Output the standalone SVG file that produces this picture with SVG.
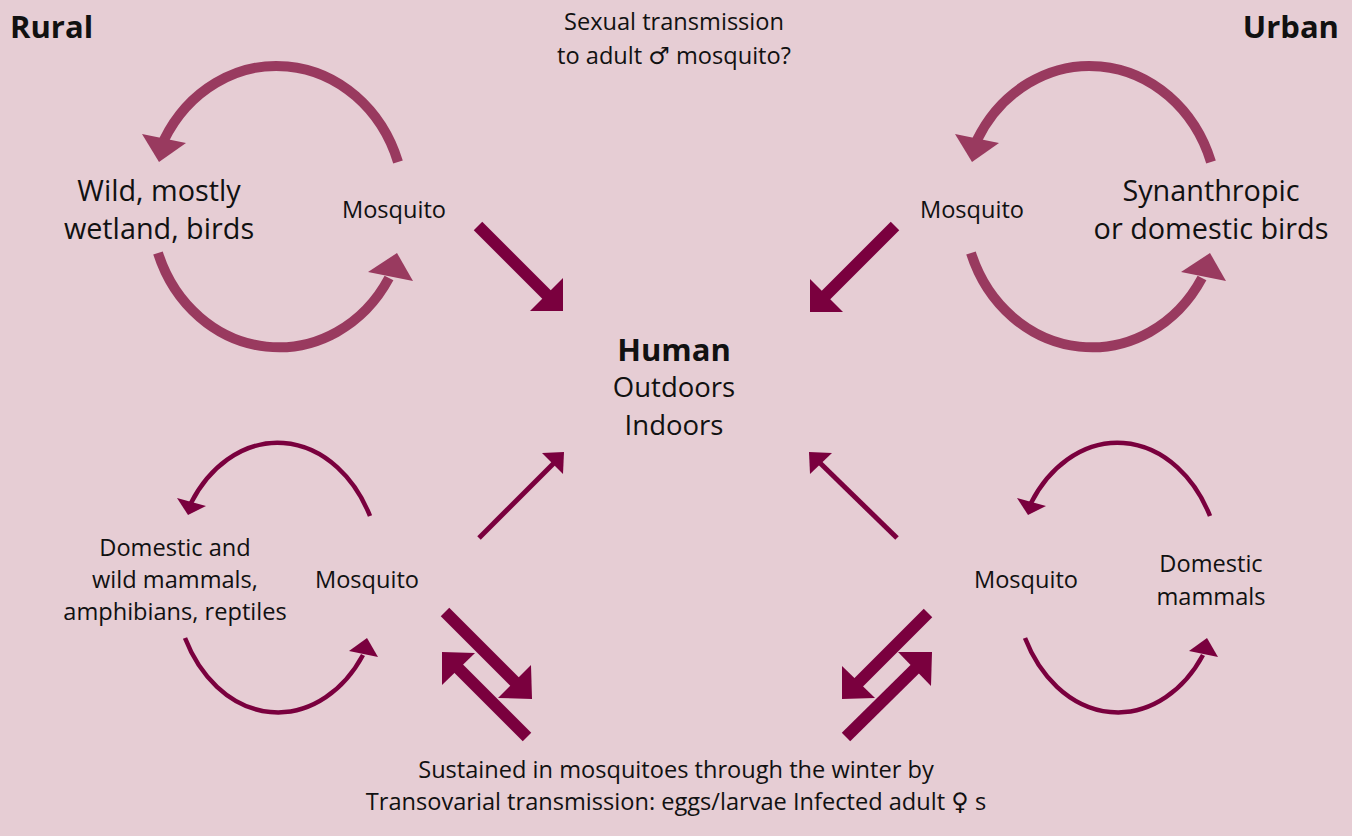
<svg xmlns="http://www.w3.org/2000/svg" width="1352" height="836" viewBox="0 0 1352 836">
<style>
  text { font-family: "Open Sans", "Noto Sans", "Liberation Sans", sans-serif; fill: #111; text-anchor: middle; }
  .t23 { font-size: 23.6px; }
  .t22 { font-size: 23.6px; }
  .t28 { font-size: 28.8px; }
  .t27 { font-size: 27.5px; }
  .title { font-size: 31px; font-weight: bold; }
  .sym { font-family: "DejaVu Sans", sans-serif; font-size: 24px; }
  .arcA { fill: none; stroke: #993A5F; stroke-width: 10; }
  .headA { fill: #993A5F; }
  .arcB { fill: none; stroke: #7A003E; stroke-width: 4.5; }
  .headB { fill: #7A003E; }
  .thick { stroke: #7A003E; stroke-width: 12; }
  .thin { stroke: #7A003E; stroke-width: 5; }
</style>
<rect width="1352" height="836" fill="#E6CDD4"/>

<g id="labels">
  <text x="10" y="38" class="title" style="text-anchor:start">Rural</text>
  <text x="1339" y="38" class="title" style="text-anchor:end">Urban</text>
  <text x="674" y="30" class="t23">Sexual transmission</text>
  <text x="674" y="64" class="t23">to adult <tspan class="sym">♂</tspan> mosquito?</text>
  <text x="676" y="778" class="t23">Sustained in mosquitoes through the winter by</text>
  <text x="676" y="810" class="t23">Transovarial transmission: eggs/larvae Infected adult <tspan class="sym">♀</tspan> s</text>
</g>

<g id="human">
  <text x="674" y="361" class="title">Human</text>
  <text x="674" y="397" class="t27">Outdoors</text>
  <text x="674" y="435" class="t27">Indoors</text>
</g>

<g id="rural-birds">
  <text x="159" y="201" class="t28">Wild, mostly</text>
  <text x="159" y="239" class="t28">wetland, birds</text>
</g>
<g id="rural-mosquito-top">
  <text x="394" y="218" class="t23">Mosquito</text>
</g>
<g id="urban-mosquito-top">
  <text x="972" y="218" class="t23">Mosquito</text>
</g>
<g id="urban-birds">
  <text x="1211" y="201" class="t28">Synanthropic</text>
  <text x="1211" y="239" class="t28">or domestic birds</text>
</g>
<g id="rural-mammals">
  <text x="175" y="556" class="t22">Domestic and</text>
  <text x="175" y="588" class="t22">wild mammals,</text>
  <text x="175" y="620" class="t22">amphibians, reptiles</text>
</g>
<g id="rural-mosquito-bottom">
  <text x="367" y="588" class="t22">Mosquito</text>
</g>
<g id="urban-mosquito-bottom">
  <text x="1026" y="588" class="t22">Mosquito</text>
</g>
<g id="urban-mammals">
  <text x="1211" y="572" class="t22">Domestic</text>
  <text x="1211" y="605" class="t22">mammals</text>
</g>

<g id="connectors">
  <g id="cycle-tl">
    <path class="arcA" d="M398,162 A128,141 0 0 0 164,140"/>
    <polygon class="headA" points="142,134 186,143 159,162"/>
    <path class="arcA" d="M158,253 A128,141 0 0 0 389,278"/>
    <polygon class="headA" points="368,272 413,281 397,253"/>
  </g>
  <g id="cycle-tr" transform="translate(813,0)">
    <path class="arcA" d="M398,162 A128,141 0 0 0 164,140"/>
    <polygon class="headA" points="142,134 186,143 159,162"/>
    <path class="arcA" d="M158,253 A128,141 0 0 0 389,278"/>
    <polygon class="headA" points="368,272 413,281 397,253"/>
  </g>
  <g id="cycle-bl">
    <path class="arcB" d="M370,516 A104,135 0 0 0 191,503"/>
    <polygon class="headB" points="177,498 206,506 188,515"/>
    <path class="arcB" d="M185,638 A104,135 0 0 0 363,655"/>
    <polygon class="headB" points="349,651 378,657 367,638"/>
  </g>
  <g id="cycle-br" transform="translate(840,0)">
    <path class="arcB" d="M370,516 A104,135 0 0 0 191,503"/>
    <polygon class="headB" points="177,498 206,506 188,515"/>
    <path class="arcB" d="M185,638 A104,135 0 0 0 363,655"/>
    <polygon class="headB" points="349,651 378,657 367,638"/>
  </g>

  <line class="thick" x1="478" y1="226" x2="550" y2="298"/>
  <polygon class="headB" points="563,311 530,311 563,278"/>
  <line class="thick" x1="895" y1="226" x2="823" y2="298"/>
  <polygon class="headB" points="810,312 843,312 810,279"/>
  <line class="thin" x1="479" y1="538" x2="556" y2="461"/>
  <polygon class="headB" points="564,452 542,453 563,474"/>
  <line class="thin" x1="897" y1="538" x2="818" y2="461"/>
  <polygon class="headB" points="809,452 832,453 810,474"/>

  <line class="thick" x1="445" y1="612" x2="519" y2="686"/>
  <polygon class="headB" points="532,699 498,698 531,665"/>
  <line class="thick" x1="527" y1="737" x2="455" y2="665"/>
  <polygon class="headB" points="442,652 475,653 442,685"/>
  <line class="thick" x1="928" y1="613" x2="855" y2="686"/>
  <polygon class="headB" points="842,699 875,698 842,666"/>
  <line class="thick" x1="846" y1="737" x2="919" y2="665"/>
  <polygon class="headB" points="932,652 898,652 931,686"/>
</g>
</svg>
